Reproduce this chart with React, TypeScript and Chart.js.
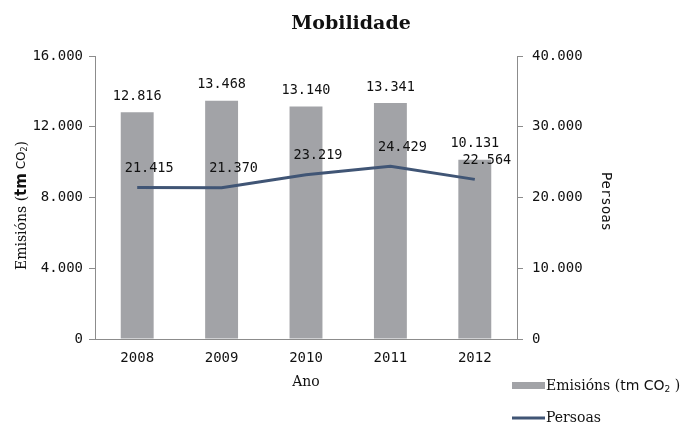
import React, { useEffect, useRef } from "react";
import { Chart, registerables } from "chart.js";

Chart.register(...registerables);

const years = ["2008", "2009", "2010", "2011", "2012"];
const emisions = [12816, 13468, 13140, 13341, 10131];
const persoas = [21415, 21370, 23219, 24429, 22564];
const leftMax = 16000;
const leftStep = 4000;
const rightMax = 40000;
const rightStep = 10000;

const BAR_COLOR = "#a2a3a7";
const LINE_COLOR = "#405575";
const AXIS_COLOR = "#8c8c8c";
const TEXT = "#111111";
const MONO = "'DejaVu Sans Mono', monospace";
const SERIF = "'DejaVu Serif', serif";

const fmt = (v: number) => String(v).replace(/\B(?=(\d{3})+(?!\d))/g, ".");

const overlay = {
  id: "overlay",
  afterDraw(chart: any) {
    const ctx = chart.ctx as CanvasRenderingContext2D;
    const area = chart.chartArea;
    ctx.save();
    // Title
    ctx.fillStyle = TEXT;
    ctx.font = `bold 19px ${SERIF}`;
    ctx.textAlign = "center";
    ctx.textBaseline = "alphabetic";
    ctx.fillText("Mobilidade", 351, 29);

    // Data labels
    ctx.font = `13.5px ${MONO}`;
    ctx.textBaseline = "middle";
    const barMeta = chart.getDatasetMeta(0);
    barMeta.data.forEach((el: any, i: number) => {
      ctx.fillText(fmt(emisions[i]), el.x, el.y - 16);
    });
    const lineMeta = chart.getDatasetMeta(1);
    lineMeta.data.forEach((el: any, i: number) => {
      ctx.fillText(fmt(persoas[i]), el.x + 12, el.y - 19);
    });

    // X axis title
    ctx.font = `14px ${SERIF}`;
    ctx.fillText("Ano", (area.left + area.right) / 2, 382);

    // Right axis title (rotated clockwise)
    ctx.save();
    ctx.translate(606, (area.top + area.bottom) / 2 + 4);
    ctx.rotate(Math.PI / 2);
    ctx.font = `14px ${MONO}`;
    ctx.textAlign = "center";
    ctx.fillText("Persoas", 0, 0);
    ctx.restore();

    // Left axis title (rotated counter-clockwise), composed of parts
    ctx.save();
    ctx.translate(22, (area.top + area.bottom) / 2 + 8);
    ctx.rotate(-Math.PI / 2);
    ctx.textAlign = "left";
    ctx.textBaseline = "middle";
    const parts: [string, string, number][] = [
      ["Emisións (", `14px ${SERIF}`, 0],
      ["tm", `bold 15px 'DejaVu Sans', sans-serif`, 0],
      [" CO", `12px 'DejaVu Sans', sans-serif`, 0],
      ["2", `8px 'DejaVu Sans', sans-serif`, 3],
      [")", `14px ${SERIF}`, 0],
    ];
    let total = 0;
    parts.forEach(([t, f]) => {
      ctx.font = f;
      total += ctx.measureText(t).width;
    });
    let x = -total / 2;
    parts.forEach(([t, f, dy]) => {
      ctx.font = f;
      ctx.fillText(t, x, dy);
      x += ctx.measureText(t).width;
    });
    ctx.restore();

    // Legend
    ctx.fillStyle = BAR_COLOR;
    ctx.fillRect(512, 382, 33, 7);
    ctx.strokeStyle = LINE_COLOR;
    ctx.lineWidth = 3;
    ctx.beginPath();
    ctx.moveTo(512, 418);
    ctx.lineTo(545, 418);
    ctx.stroke();
    ctx.fillStyle = TEXT;
    ctx.textAlign = "left";
    ctx.textBaseline = "middle";
    const lparts: [string, string, number][] = [
      ["Emisións (", `14px ${SERIF}`, 0],
      ["tm", `14px 'DejaVu Sans', sans-serif`, 0],
      [" CO", `14px 'DejaVu Sans', sans-serif`, 0],
      ["2", `9px 'DejaVu Sans', sans-serif`, 4],
      [" )", `14px ${SERIF}`, 0],
    ];
    let lx = 546;
    lparts.forEach(([t, f, dy]) => {
      ctx.font = f;
      ctx.fillText(t, lx, 386 + dy);
      lx += ctx.measureText(t).width;
    });
    ctx.font = `14px ${SERIF}`;
    ctx.fillText("Persoas", 546, 418);
    ctx.restore();
  },
};

export default function App() {
  const ref = useRef<HTMLCanvasElement>(null);
  useEffect(() => {
    if (!ref.current) return;
    const chart = new Chart(ref.current, {
      data: {
        labels: years,
        datasets: [
          {
            type: "bar",
            label: "Emisións (tm CO₂)",
            data: emisions,
            backgroundColor: BAR_COLOR,
            yAxisID: "y",
            barPercentage: 0.39,
            categoryPercentage: 1,
            order: 2,
          },
          {
            type: "line",
            label: "Persoas",
            data: persoas,
            borderColor: LINE_COLOR,
            backgroundColor: LINE_COLOR,
            borderWidth: 3,
            pointRadius: 0,
            tension: 0,
            yAxisID: "y1",
            order: 1,
          },
        ],
      },
      options: {
        responsive: false,
        animation: false,
        layout: { padding: { left: 0, top: 56, right: 54, bottom: 46 } },
        plugins: {
          legend: { display: false },
          title: { display: false },
          tooltip: { enabled: false },
        },
        scales: {
          x: {
            offset: true,
            grid: { display: false, drawTicks: false },
            border: { display: true, color: AXIS_COLOR, width: 1 },
            ticks: { color: TEXT, font: { family: MONO, size: 14 }, padding: 11 },
            afterFit: (s: any) => {
              s.height = 40;
            },
          },
          y: {
            position: "left",
            min: 0,
            max: leftMax,
            grid: { drawOnChartArea: false, drawTicks: true, tickLength: 6, color: AXIS_COLOR },
            border: { display: true, color: AXIS_COLOR, width: 1 },
            ticks: {
              stepSize: leftStep,
              color: TEXT,
              font: { family: MONO, size: 14 },
              padding: 6,
              callback: (v: any) => fmt(Number(v)),
            },
            afterFit: (s: any) => {
              s.width = 95;
            },
          },
          y1: {
            position: "right",
            min: 0,
            max: rightMax,
            grid: { drawOnChartArea: false, drawTicks: true, tickLength: 6, color: AXIS_COLOR },
            border: { display: true, color: AXIS_COLOR, width: 1 },
            ticks: {
              stepSize: rightStep,
              color: TEXT,
              font: { family: MONO, size: 14 },
              padding: 9,
              callback: (v: any) => fmt(Number(v)),
            },
            afterFit: (s: any) => {
              s.width = 120;
            },
          },
        },
      } as any,
      plugins: [overlay],
    } as any);
    return () => chart.destroy();
  }, []);
  return (
    <div style={{ position: "fixed", left: 0, top: 0, width: 691, height: 425, background: "#fff" }}>
      <canvas ref={ref} width={691} height={425} />
    </div>
  );
}
